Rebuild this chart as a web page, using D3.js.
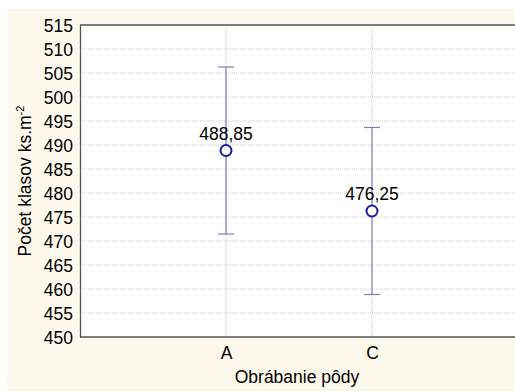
<!DOCTYPE html>
<html>
<head>
<meta charset="utf-8">
<script src="https://cdn.jsdelivr.net/npm/d3@7"></script>
<style>
  html, body { margin: 0; padding: 0; background: #fff; }
  svg { display: block; }
  text { font-family: "Liberation Sans", Arial, sans-serif; fill: #000; }
</style>
</head>
<body>
<svg id="chart" width="515" height="392"></svg>
<script>
// Mean number of ears per m² by soil tillage, with error bars
const categories = ["A", "C"];
const means = [488.85, 476.25];
const errors = [17.4, 17.4];
const yTicks = [450, 455, 460, 465, 470, 475, 480, 485, 490, 495, 500, 505, 510, 515];
const meanLabels = ["488,85", "476,25"];

const svg = d3.select("#chart");
const W = 515, H = 392;
const FS = "17.5px";
const plot = { left: 80, top: 25, right: 518, bottom: 337 };

// panel background
svg.append("rect").attr("x", 7).attr("y", 9).attr("width", W - 7).attr("height", 382)
  .attr("fill", "#fdf8ec");
svg.append("rect").attr("x", plot.left).attr("y", plot.top)
  .attr("width", plot.right - plot.left).attr("height", plot.bottom - plot.top)
  .attr("fill", "#ffffff");

const y = d3.scaleLinear().domain([450, 515]).range([plot.bottom, plot.top]);
const x = d3.scalePoint().domain(["", ...categories, " "]).range([plot.left, plot.right]);

// horizontal grid
svg.append("g").selectAll("line").data(yTicks.slice(1, -1)).join("line")
  .attr("x1", plot.left).attr("x2", plot.right)
  .attr("y1", d => y(d)).attr("y2", d => y(d))
  .attr("stroke", "#c8c8c8").attr("stroke-width", 1).attr("stroke-dasharray", "1,1");

// vertical grid at categories
svg.append("g").selectAll("line").data(categories).join("line")
  .attr("x1", d => x(d)).attr("x2", d => x(d))
  .attr("y1", plot.top).attr("y2", plot.bottom)
  .attr("stroke", "#c8c8c8").attr("stroke-width", 1).attr("stroke-dasharray", "1,1");

// y axis
const yAxis = d3.axisLeft(y).tickValues(yTicks).tickSize(0).tickPadding(7)
  .tickFormat(d3.format("d"));
const gy = svg.append("g").attr("transform", `translate(${plot.left},0)`).call(yAxis);
gy.select(".domain").attr("stroke", "#555").attr("stroke-width", 1.3);
gy.selectAll("text").style("font-size", FS).attr("dy", "0.35em");

// x axis
const xAxis = d3.axisBottom(x).tickValues(categories).tickSize(0).tickPadding(10);
const gx = svg.append("g").attr("transform", `translate(0,${plot.bottom})`).call(xAxis);
gx.select(".domain").remove();
gx.selectAll("text").style("font-size", FS);

// plot frame lines (top and bottom)
svg.append("line").attr("x1", plot.left).attr("x2", W).attr("y1", plot.top).attr("y2", plot.top)
  .attr("stroke", "#555").attr("stroke-width", 1.3);
svg.append("line").attr("x1", plot.left).attr("x2", W).attr("y1", plot.bottom).attr("y2", plot.bottom)
  .attr("stroke", "#555").attr("stroke-width", 1.3);

// error bars
const barColor = "#7f7fb6";
const eb = svg.append("g");
categories.forEach((c, i) => {
  const cx = x(c), top = y(means[i] + errors[i]), bot = y(means[i] - errors[i]);
  eb.append("line").attr("x1", cx).attr("x2", cx).attr("y1", top).attr("y2", bot)
    .attr("stroke", barColor).attr("stroke-width", 1.2);
  [top, bot].forEach(yy => eb.append("line")
    .attr("x1", cx - 8).attr("x2", cx + 8).attr("y1", yy).attr("y2", yy)
    .attr("stroke", barColor).attr("stroke-width", 1.2));
});

// mean markers
svg.append("g").selectAll("circle").data(means).join("circle")
  .attr("cx", (d, i) => x(categories[i])).attr("cy", d => y(d)).attr("r", 5.5)
  .attr("fill", "#fff").attr("stroke", "#1c1caa").attr("stroke-width", 2);

// mean labels
svg.append("g").selectAll("text").data(means).join("text")
  .attr("x", (d, i) => x(categories[i])).attr("y", d => y(d) - 11)
  .attr("text-anchor", "middle").style("font-size", FS)
  .text((d, i) => meanLabels[i]);

// axis titles
svg.append("text").attr("x", 297).attr("y", 383).attr("text-anchor", "middle")
  .style("font-size", FS).text("Obrábanie pôdy");
const yt = svg.append("text").attr("transform", "translate(31,181) rotate(-90)")
  .attr("text-anchor", "middle").style("font-size", FS);
yt.append("tspan").text("Počet klasov ks.m");
yt.append("tspan").attr("dy", "-7").style("font-size", "11px").text("-2");
</script>
</body>
</html>
